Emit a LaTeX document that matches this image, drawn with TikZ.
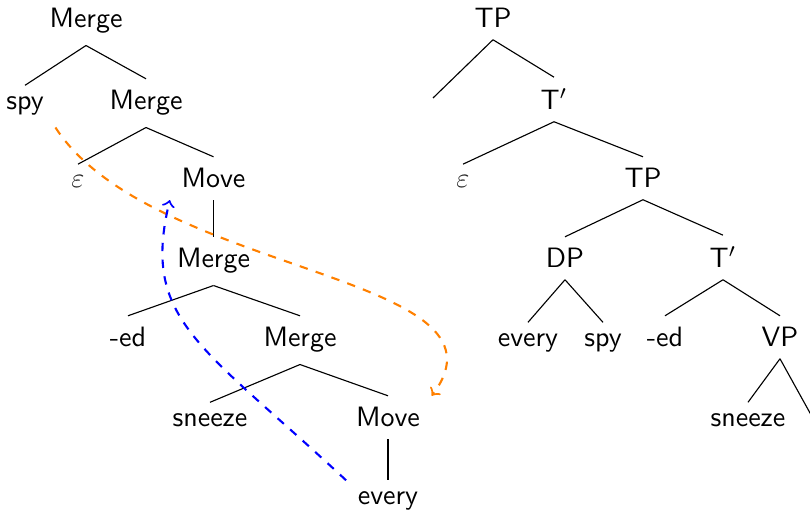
\documentclass[tikz,border=0pt]{standalone}
\usepackage{fontspec}
\begin{document}
\begin{tikzpicture}[x=0.357pt, y=-0.357pt,
  lbl/.style={font=\sffamily, anchor=base, inner xsep=4pt, inner ysep=4pt},
  epsl/.style={lbl, text=black!85},
  branch/.style={draw=black, line width=0.4pt},
  moveup/.style={->, dashed, blue, line width=0.75pt},
  mergeback/.style={->, dashed, orange, line width=0.75pt}]
\useasboundingbox (0,0) rectangle (810,511);
\clip (0,0) rectangle (810,511);

% derivation tree
\node[lbl] (m1)  at (86,28)  {Merge};
\node[lbl] (spy1) at (25,110) {spy};
\node[lbl] (m2)  at (146,110) {Merge};
\node[epsl] (eps1) at (78,188) {$\varepsilon$};
\node[lbl] (mv1) at (213.5,188) {Move};
\node[lbl] (m3)  at (213.5,268) {Merge};
\node[lbl] (ed1) at (128,347) {-ed};
\node[lbl] (m4)  at (300,347) {Merge};
\node[lbl] (sn1) at (210,427) {sneeze};
\node[lbl] (mv2) at (388,427) {Move};
\node[lbl] (ev1) at (388,505) {every};

\draw[branch] (m1.south) -- (spy1.north);
\draw[branch] (m1.south) -- (m2.north);
\draw[branch] (m2.south) -- (eps1.north);
\draw[branch] (m2.south) -- (mv1.north);
\draw[branch] (mv1.south) -- (m3.north);
\draw[branch] (m3.south) -- (ed1.north);
\draw[branch] (m3.south) -- (m4.north);
\draw[branch] (m4.south) -- (sn1.north);
\draw[branch] (m4.south) -- (mv2.north);
\draw[branch] (mv2.south) -- (ev1.north);

% phrase structure tree
\node[lbl] (tp1) at (493,28) {TP};
\coordinate (spec1) at (433,98);
\node[lbl] (t1)  at (554,110) {T$'$};
\node[epsl] (eps2) at (463,188) {$\varepsilon$};
\node[lbl] (tp2) at (643,188) {TP};
\node[lbl] (dp)  at (565,268) {DP};
\node[lbl] (t2)  at (723,268) {T$'$};
\node[lbl] (ev2) at (528,347) {every};
\node[lbl] (spy2) at (603,347) {spy};
\node[lbl] (ed2) at (665,347) {-ed};
\node[lbl] (vp)  at (780,347) {VP};
\node[lbl] (sn2) at (748,427) {sneeze};
\coordinate (vpr) at (815,422);

\draw[branch] (tp1.south) -- (spec1);
\draw[branch] (tp1.south) -- (t1.north);
\draw[branch] (t1.south) -- (eps2.north);
\draw[branch] (t1.south) -- (tp2.north);
\draw[branch] (tp2.south) -- (dp.north);
\draw[branch] (tp2.south) -- (t2.north);
\draw[branch] (dp.south) -- (ev2.north);
\draw[branch] (dp.south) -- (spy2.north);
\draw[branch] (t2.south) -- (ed2.north);
\draw[branch] (t2.south) -- (vp.north);
\draw[branch] (vp.south) -- (sn2.north);
\draw[branch] (vp.south) -- (vpr);

% movement arrows
\draw[mergeback] (spy1.south east) .. controls +(96,148) and +(92,-122) .. (mv2.north east);
\draw[moveup] (ev1.north west) .. controls +(-146,-136) and +(-29,120) .. (mv1.south west);
\end{tikzpicture}
\end{document}
